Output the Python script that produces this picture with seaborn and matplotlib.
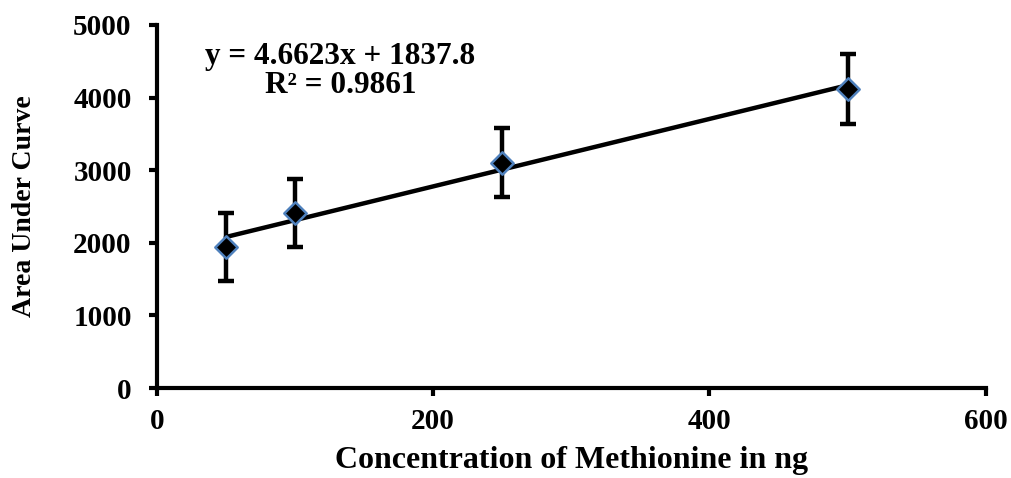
import matplotlib
matplotlib.use("Agg")
import matplotlib.pyplot as plt
import seaborn as sns
import numpy as np
import pandas as pd

conc = [50, 100, 250, 500]
auc = [1942, 2410, 3099, 4118]
err = [470, 470, 475, 480]
xticks = [0, 200, 400, 600]
yticks = [0, 1000, 2000, 3000, 4000, 5000]
eq_text = "y = 4.6623x + 1837.8"
r2_text = "R² = 0.9861"

sns.set_style("white")
plt.rcParams['font.family'] = ['Liberation Serif', 'DejaVu Serif']
plt.rcParams['font.weight'] = 'bold'
plt.rcParams['text.color'] = 'black'
plt.rcParams['axes.labelcolor'] = 'black'
plt.rcParams['xtick.color'] = 'black'
plt.rcParams['ytick.color'] = 'black'

df = pd.DataFrame({"conc": conc, "auc": auc, "err": err})

fig = plt.figure(figsize=(10.11, 4.78), dpi=100)
ax = fig.add_axes([0.155, 0.188, 0.82, 0.76])

sns.regplot(data=df, x="conc", y="auc", ci=None, truncate=True, scatter=False,
            line_kws=dict(color="black", lw=3.2), ax=ax)
ax.errorbar(df["conc"], df["auc"], yerr=df["err"], fmt="none", ecolor="black",
            elinewidth=3.2, capsize=5.5, capthick=3.2, zorder=3)
sns.scatterplot(data=df, x="conc", y="auc", marker="D", s=130, color="black",
                edgecolor="#4F81BD", linewidth=1.8, zorder=4, ax=ax)

ax.set_xlim(0, 600)
ax.set_ylim(0, 5000)
ax.set_xticks(xticks)
ax.set_yticks(yticks)
ax.set_xlabel("Concentration of Methionine in ng", fontsize=23, fontweight='bold',
              color='black', labelpad=8)
ax.set_ylabel("Area Under Curve", fontsize=20, fontweight='bold', color='black',
              labelpad=26)
ax.tick_params(axis='x', direction='out', length=6, width=3, labelsize=21, pad=8,
               bottom=True, colors='black')
ax.tick_params(axis='y', direction='out', length=6, width=3, labelsize=21, pad=12,
               left=True, colors='black')
for lab in ax.get_xticklabels() + ax.get_yticklabels():
    lab.set_fontweight('bold')
for s in ['top', 'right']:
    ax.spines[s].set_visible(False)
for s in ['left', 'bottom']:
    ax.spines[s].set_linewidth(3)
    ax.spines[s].set_color('black')

ax.text(133, 4560, eq_text, fontsize=22.5, fontweight='bold', ha='center', va='center',
        color='black')
ax.text(133, 4170, r2_text, fontsize=22.5, fontweight='bold', ha='center', va='center',
        color='black')

fig.savefig("out.png", dpi=100)
